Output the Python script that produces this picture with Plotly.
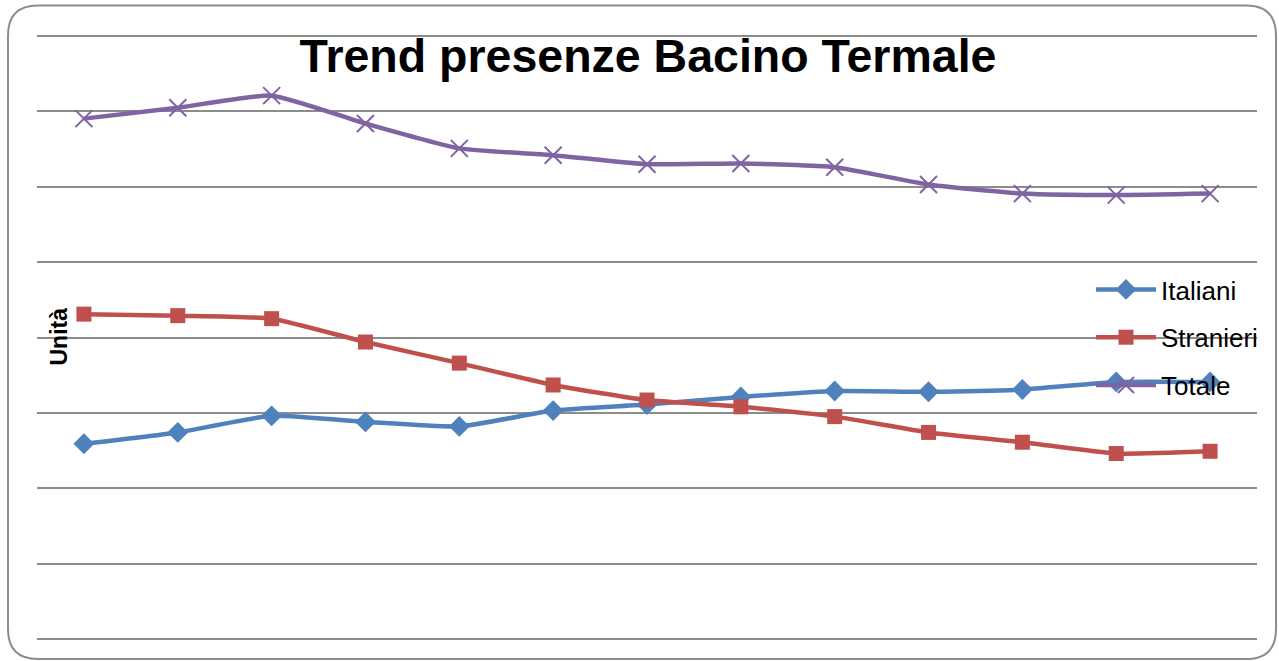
import plotly.graph_objects as go

periodi = [str(i) for i in range(1, 14)]
italiani = [259000, 274000, 296000, 288000, 282000, 303000, 311000, 321000, 329000, 328000, 331000, 341000, 341000]
stranieri = [431000, 429000, 425000, 394000, 366000, 337000, 317000, 308000, 295000, 274000, 261000, 246000, 249000]
totale = [690500, 705000, 721000, 684000, 651000, 642000, 630000, 631000, 626000, 603000, 591000, 589000, 591000]

fig = go.Figure()
fig.add_trace(go.Scatter(x=periodi, y=italiani, name="Italiani", mode="lines+markers",
                         line=dict(color="#4F81BD", width=4.5, shape="spline", smoothing=0.5),
                         marker=dict(symbol="diamond", size=16, color="#4F81BD"),
                         legendgroup="a"))
fig.add_trace(go.Scatter(x=periodi, y=stranieri, name="Stranieri", mode="lines+markers",
                         line=dict(color="#C0504D", width=4.5, shape="spline", smoothing=0.5),
                         marker=dict(symbol="square", size=15, color="#C0504D"),
                         legendgroup="b"))
fig.add_trace(go.Scatter(x=periodi, y=totale, name="Totale", mode="lines+markers",
                         line=dict(color="#8064A2", width=4.5, shape="spline", smoothing=0.5),
                         marker=dict(symbol="x-thin", size=17, color="#8064A2",
                                     line=dict(color="#8064A2", width=2)),
                         legendgroup="c"))

L, R, T, B = 37, 22, 35, 21
W, H = 1279, 661
pw, ph = W - L - R, H - T - B

def px(x):
    return (x - L) / pw

def py(y):
    return (H - B - y) / ph

x0, x1, y0, y1, r = 8, 1276, 5.5, 659, 30
path = (f"M {px(x0+r)},{py(y0)} L {px(x1-r)},{py(y0)} Q {px(x1)},{py(y0)} {px(x1)},{py(y0+r)} "
        f"L {px(x1)},{py(y1-r)} Q {px(x1)},{py(y1)} {px(x1-r)},{py(y1)} "
        f"L {px(x0+r)},{py(y1)} Q {px(x0)},{py(y1)} {px(x0)},{py(y1-r)} "
        f"L {px(x0)},{py(y0+r)} Q {px(x0)},{py(y0)} {px(x0+r)},{py(y0)} Z")

fig.update_layout(
    width=W, height=H,
    margin=dict(l=L, r=R, t=T, b=B, autoexpand=False),
    paper_bgcolor="white", plot_bgcolor="white",
    title=dict(text="<b>Trend presenze Bacino Termale</b>", x=648 / W, xanchor="center",
               y=1 - 56 / H, yanchor="middle",
               font=dict(family="Liberation Sans", size=46.5, color="black")),
    xaxis=dict(type="category", range=[-0.5, 12.5], showgrid=False, showticklabels=False,
               ticks="", showline=False, zeroline=False, automargin=False),
    yaxis=dict(range=[-1500, 801500], dtick=100000, showgrid=True, gridcolor="#8c8c8c",
               gridwidth=1.5, showticklabels=False, ticks="", zeroline=False, showline=False,
               automargin=False),
    legend=dict(x=px(1091), y=py(266), xanchor="left", yanchor="top",
                bgcolor="rgba(0,0,0,0)", tracegroupgap=11,
                font=dict(family="Liberation Sans", size=26, color="black"),
                itemwidth=60),
    showlegend=True,
    annotations=[dict(text="<b>Unità</b>", textangle=-90, xref="paper", yref="paper",
                      x=px(58), y=py(336.5), xanchor="center", yanchor="middle", showarrow=False,
                      font=dict(family="Liberation Sans", size=23, color="black"))],
    shapes=[dict(type="path", path=path, xref="paper", yref="paper",
                 line=dict(color="#8c8c8c", width=2), layer="below")],
)
fig.write_html("out.html", config={"displayModeBar": False},
               post_script="document.body.style.margin='0';")
